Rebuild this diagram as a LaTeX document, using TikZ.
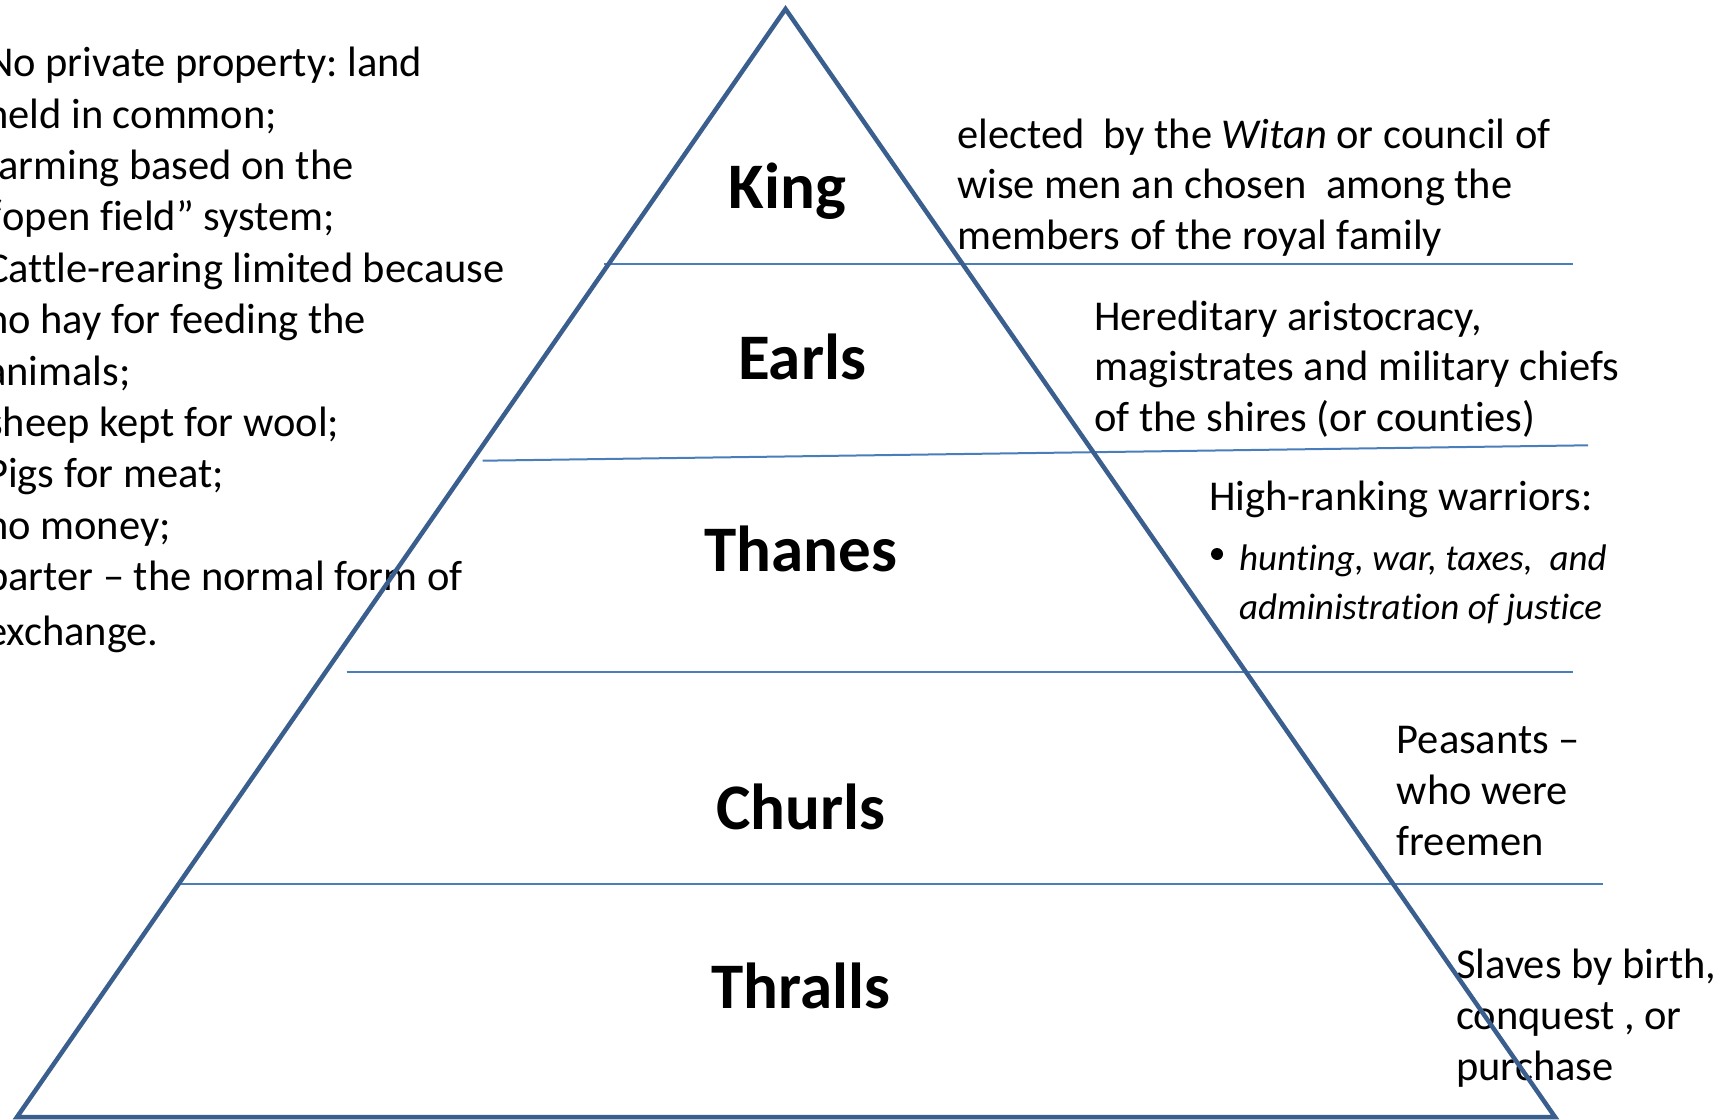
\documentclass[tikz,border=0pt]{standalone}
\usepackage{fontspec}
\setmainfont{Carlito}[Ligatures={NoCommon}]
\definecolor{triblue}{HTML}{3A5F8E}
\definecolor{lineblue}{HTML}{4A7EBB}
\frenchspacing
\begin{document}
\begin{tikzpicture}[x=1pt,y=-1pt,
  level/.style={font={\fontsize{65}{78}\selectfont\bfseries}, inner sep=0pt, anchor=base},
  desc/.style={font={\fontsize{42.5}{51}\selectfont}, inner sep=0pt, anchor=base west, align=left},
  itdesc/.style={font={\fontsize{37}{49}\selectfont\itshape}, inner sep=0pt, anchor=base west, align=left},
  tierline/.style={draw=lineblue, line width=2pt},
  pyramid/.style={draw=triblue, line width=4.5pt, line join=miter}]
\useasboundingbox (0,0) rectangle (1715,1119);
\begin{scope}
\clip (0,0) rectangle (1715,1119);
% left column (anchored at the baseline of its last line)
\node[desc, font={\fontsize{42.5}{51.4}\selectfont}] (econ) at (-14,645.3)
 {No private property: land\\
  held in common;\\
  farming based on the\\
  “open field” system;\\
  Cattle-rearing limited because\\
  no hay for feeding the\\
  animals;\\
  sheep kept for wool;\\
  Pigs for meat;\\
  no money;\\
  barter – the normal form of\\[3.2pt]
  exchange.};
% right descriptions
\node[desc, font={\fontsize{42.5}{50.7}\selectfont}] (kingd) at (957,249.4)
 {elected~~by the \textit{Witan} or council of\\
  wise men an chosen~~among the\\
  members of the royal family};
\node[desc, font={\fontsize{42.5}{50.5}\selectfont}] (earlsd) at (1094,431)
 {Hereditary aristocracy,\\
  magistrates and military chiefs\\
  of the shires (or counties)};
\node[desc] (thanesd) at (1209,510) {High-ranking warriors:};
\node[circle, fill=black, inner sep=0pt, minimum size=12pt] (bul) at (1217,554) {};
\node[itdesc] (thanesi) at (1239,619)
 {hunting, war, taxes,~~and\\
  administration of justice};
\node[desc] (churlsd) at (1396.5,855)
 {Peasants –\\
  who were\\
  freemen};
\node[desc] (thrallsd) at (1456,1080)
 {Slaves by birth,\\
  conquest , or\\
  purchase};
% level labels
\node[level] (king) at (787.5,208) {King};
\node[level] (earls) at (802,379.5) {Earls};
\node[level] (thanes) at (801,571) {Thanes};
\node[level] (churls) at (801,829) {Churls};
\node[level] (thralls) at (801,1008) {Thralls};
% tier lines
\coordinate (l1a) at (604,264);   \coordinate (l1b) at (1573,264);
\coordinate (l2a) at (482.7,460.7); \coordinate (l2b) at (1588,445.3);
\coordinate (l3a) at (346.7,672); \coordinate (l3b) at (1573,672);
\coordinate (l4a) at (178,884);   \coordinate (l4b) at (1603,884);
\draw[tierline] (l1a) -- (l1b);
\draw[tierline] (l2a) -- (l2b);
\draw[tierline] (l3a) -- (l3b);
\draw[tierline] (l4a) -- (l4b);
% pyramid
\coordinate (apex) at (785.5,9);
\coordinate (bl) at (17,1117);
\coordinate (br) at (1555,1117);
\draw[pyramid] (apex) -- (bl) -- (br) -- cycle;
\end{scope}
\end{tikzpicture}
\end{document}
